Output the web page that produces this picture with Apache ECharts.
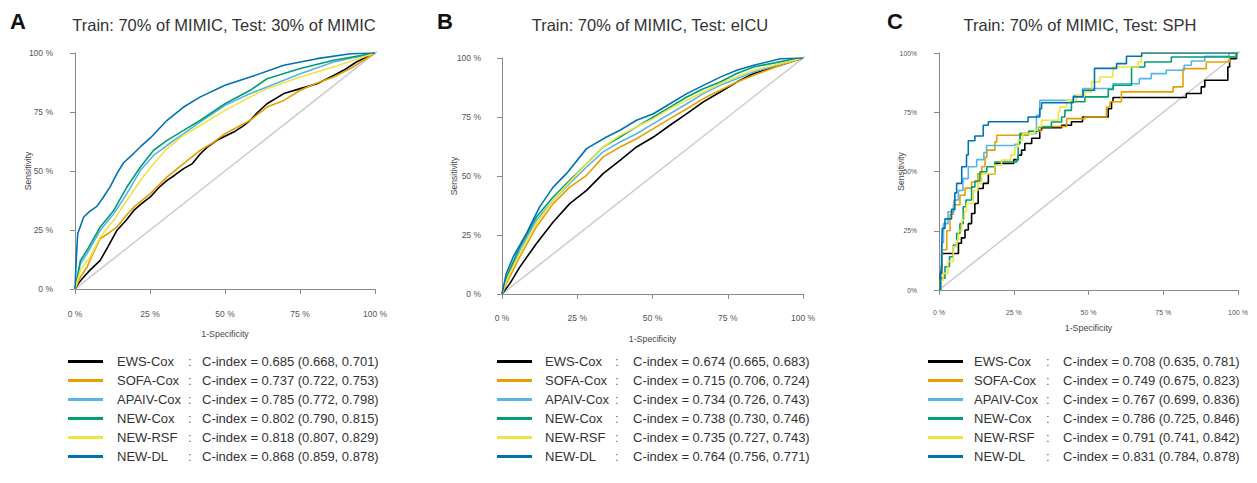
<!DOCTYPE html>
<html>
<head>
<meta charset="utf-8">
<script src="https://cdn.jsdelivr.net/npm/echarts@6/dist/echarts.min.js"></script>
<style>
html,body{margin:0;padding:0;background:#fff;}
#chart{width:1257px;height:483px;}
</style>
</head>
<body>
<div id="chart"></div>
<script>
// ---------- DATA ----------
const models = ['EWS-Cox', 'SOFA-Cox', 'APAIV-Cox', 'NEW-Cox', 'NEW-RSF', 'NEW-DL'];
const panelLetters = ['A', 'B', 'C'];
const panelTitles = ['Train: 70% of MIMIC, Test: 30% of MIMIC', 'Train: 70% of MIMIC, Test: eICU', 'Train: 70% of MIMIC, Test: SPH'];
const tickValues = [0, 25, 50, 75, 100];
const xAxisName = '1-Specificity';
const yAxisName = 'Sensitivity';

const cindexA = ['0.685 (0.668, 0.701)', '0.737 (0.722, 0.753)', '0.785 (0.772, 0.798)', '0.802 (0.790, 0.815)', '0.818 (0.807, 0.829)', '0.868 (0.859, 0.878)'];
const cindexB = ['0.674 (0.665, 0.683)', '0.715 (0.706, 0.724)', '0.734 (0.726, 0.743)', '0.738 (0.730, 0.746)', '0.735 (0.727, 0.743)', '0.764 (0.756, 0.771)'];
const cindexC = ['0.708 (0.635, 0.781)', '0.749 (0.675, 0.823)', '0.767 (0.699, 0.836)', '0.786 (0.725, 0.846)', '0.791 (0.741, 0.842)', '0.831 (0.784, 0.878)'];

// Panel A ROC points [1-specificity %, sensitivity %]
const rocA_EWS = [[0,0],[1.5,3],[2.9,5.1],[5,8],[8.4,12.1],[11,18],[14,24.9],[17,29],[19.6,33.3],[22,36],[25.1,39],[28,43],[30.7,46],[33,48],[36.2,51],[39,53],[41.8,57.3],[44,60],[47.3,63],[52.9,66.5],[56,69],[58.4,71.5],[61,75],[64,78.5],[69.6,82.8],[75.1,84.9],[80.7,87],[86.2,90.5],[90,93],[93.8,96.2],[100,100]];
const rocA_SOFA = [[0,0],[1.8,5.1],[4,9.3],[6,15],[8.4,21.3],[11,23.5],[14,26.3],[17,31],[19.6,34.7],[25.1,40.4],[30.7,47.5],[36.2,53.1],[41.8,58.8],[46,62],[50,65.8],[58.4,71.5],[64,77.1],[69.6,79.9],[75.1,84.2],[80,87],[86.2,89.8],[91.8,93.4],[100,100]];
const rocA_APAIV = [[0,0],[1.8,10.7],[4,15],[8.4,24.9],[12.9,31.9],[17.3,40.4],[21.8,50.3],[26.2,56.6],[30.7,60.9],[36.2,65.8],[41.8,70.8],[50,77.8],[58.4,82.8],[64,85.6],[75.1,91.2],[86.2,96.2],[100,100]];
const rocA_NEWCox = [[0,0],[1.8,12.1],[4,16.4],[8.4,26.3],[12.9,33.3],[17.3,43.2],[21.8,51.7],[26.2,58.8],[30.7,63],[36.2,67.2],[41.8,71.5],[50,78.5],[58.4,84.2],[64,89.1],[75.1,93.4],[86.2,96.9],[100,100]];
const rocA_RSF = [[0,0],[1.8,7.9],[5.1,13.6],[8.4,22],[12.9,29.1],[17.3,37.6],[21.8,46],[26.2,53.1],[30.7,59.5],[36.2,65.1],[41.8,69.4],[50,75.7],[58.4,81.4],[64,84.9],[75.1,89.8],[86.2,94.1],[100,100]];
const rocA_DL = [[0,0],[0.4,12.1],[0.9,23.4],[2.9,30.5],[5,33],[7.3,35],[9.5,39],[11.8,43.5],[14,49],[16.2,53.5],[19.6,57.5],[22,60.5],[25.1,64],[30.7,71.5],[36.2,77.1],[41.8,81.4],[50,86.3],[58.4,89.8],[69.6,94.8],[80.7,97.6],[91.8,99.7],[100,100]];

// Panel B
const rocB_EWS = [[0,0],[2.6,4.4],[5.9,11.4],[11.4,21.3],[17,30.5],[22.5,38.3],[28.1,43.9],[33.6,51],[39.2,56.6],[44.7,62.3],[50.3,66.5],[55.8,71.5],[61.4,76.4],[66.9,81.4],[72.5,85.6],[78,89.8],[83.6,93.4],[92.5,96.9],[100,100]];
const rocB_SOFA = [[0,0],[2,5.8],[5.9,15.7],[11.4,28.4],[17,38.3],[22.5,45.3],[28.1,50.3],[33.6,58.1],[39.2,62.3],[44.7,65.8],[50.3,70.1],[55.8,74.3],[61.4,78.5],[66.9,82.8],[72.5,86.3],[78,89.8],[83.6,92.7],[92.5,96.9],[100,100]];
const rocB_APAIV = [[0,0],[2,7.2],[5.9,18.5],[11.4,31.2],[17,39.7],[22.5,46.8],[28.1,53.8],[33.6,60.2],[39.2,64.4],[44.7,67.9],[50.3,72.2],[55.8,76.4],[61.4,80.6],[66.9,84.9],[72.5,88.4],[78,91.2],[83.6,94.1],[94.7,98.3],[100,100]];
const rocB_NEWCox = [[0,0],[2,8.6],[5.9,19.9],[11.4,32.6],[17,41.1],[22.5,48.2],[28.1,55.2],[33.6,62.3],[39.2,66.5],[44.7,70.8],[50.3,75],[55.8,79.2],[61.4,83.5],[66.9,87],[72.5,89.8],[78,93.4],[83.6,96.2],[94.7,99],[100,100]];
const rocB_RSF = [[0,0],[2,7.2],[5.9,17.1],[11.4,29.8],[17,39.7],[22.5,47.5],[28.1,55.2],[33.6,62.3],[39.2,67.2],[44.7,70.8],[50.3,74.3],[55.8,78.5],[61.4,82.1],[66.9,85.6],[72.5,89.1],[78,92.1],[83.6,94.8],[94.7,98.3],[100,100]];
const rocB_DL = [[0,0],[1.4,8.6],[3.7,15.7],[8.1,25.6],[12.5,36.9],[17,45.3],[21.4,51],[28.1,61.6],[34.7,66.5],[39.2,69.4],[44.7,73.6],[50.3,76.4],[55.8,80.6],[61.4,84.9],[66.9,88.4],[72.5,91.9],[78,94.8],[83.6,96.9],[92.5,99.7],[100,100]];

// Panel C (step curves: [x where the jump occurs, sensitivity after the jump])
const rocC_EWS = [[0,0],[0.3,7],[0.9,15.4],[6.5,19.7],[7.5,22],[8.7,25.3],[9.8,28],[10.9,32.3],[12,36.5],[13.1,42.8],[14.8,45],[16.5,49],[18.7,53.4],[25,55],[26.5,56.9],[27.6,59],[28.7,61.8],[31,64],[33.7,67.4],[34.3,68.5],[41,69.5],[44.3,71],[48,73],[56.6,76.5],[57.7,79.4],[58.2,81.2],[82.7,82.9],[87.7,85.7],[88.9,88.5],[96.6,94.1],[97.2,97.6],[99.5,100],[100,100]];
const rocC_SOFA = [[0,0],[0.5,8],[1,17],[2.6,25],[3.7,32],[4.8,36],[7,40],[8.7,43],[10.9,45.6],[13,49],[14.3,52],[15.4,56],[16,59],[18.7,62.5],[19.3,65.3],[30,67],[34,69],[42.7,72.3],[48.8,73],[56,77.2],[57.2,79.4],[61,83.6],[78.3,85.7],[81.6,93.4],[89.4,96.2],[97.2,98.3],[99.5,100],[100,100]];
const rocC_APAIV = [[0,0],[0.5,10],[1,20],[1.5,28],[3,33],[5,38],[6.5,42],[8,47],[9.8,52],[12.6,55],[15,58],[15.9,61],[25.4,61.5],[27,66],[32.6,73.7],[33.7,80],[45,82],[48,85],[58.2,87],[67,89.2],[71,91.3],[76,92.7],[82,94.8],[84.4,96.6],[88.9,98.6],[97,100],[100,100]];
const rocC_NEWCox = [[0,0],[0.5,5],[2,9.8],[3.5,14],[4.8,19],[5.9,23.9],[7,28],[8.1,35.1],[9,38],[10.9,43.5],[12,46],[13.7,49.9],[16,52],[18.7,54],[26,55],[26.5,61.8],[27.1,66],[30,67],[33.2,68.8],[37.6,70.9],[41,73],[42.1,75.8],[44.3,79.4],[48.8,81.5],[56.6,84.6],[58.3,86.4],[64.4,94.1],[68.8,96.2],[77.7,98.3],[99.5,100],[100,100]];
const rocC_RSF = [[0,0],[0.5,4],[1.4,7],[3,12],[4.8,18.3],[5.9,21],[6.5,25],[7.6,29.5],[8.5,33],[9.2,36.5],[11.5,42],[13,45],[14.3,49],[18.7,52.7],[20.9,54.8],[24,57],[25.4,60.4],[26.5,63.2],[28,66],[32,67.4],[33,69],[34.3,71.6],[39.9,75.1],[40.4,77.2],[42.6,80],[46,82],[48.8,83.6],[51,87.8],[53.8,89.9],[58.2,94.1],[66.6,96.2],[67.7,100],[100,100]];
const rocC_DL = [[0,0],[0.5,8],[0.9,18],[1.1,26],[2,30],[4.2,34],[5.3,41],[5.9,45],[7.6,52],[9.2,57],[9.8,63],[12,65],[14.8,69.5],[16.5,71],[29.8,73],[33.7,76.5],[34.3,79],[44.9,81.5],[48.2,84.3],[52,93.5],[59.4,95.5],[62.7,98.6],[67.8,100],[100,100]];

const chanceLine = [[-4,-4],[104,104]];

// ---------- STYLE / LAYOUT ----------
const colors = ['#000000', '#E69F00', '#56B4E9', '#009E73', '#F0E442', '#0072B2'];
const FONT = '"Liberation Sans", Arial, Helvetica, sans-serif';

const panels = [
  { curves: [rocA_EWS, rocA_SOFA, rocA_APAIV, rocA_NEWCox, rocA_RSF, rocA_DL], cidx: cindexA,
    grid: {left: 75, top: 53, width: 300, height: 236}, yOff: 13, xOff: 11, yGap: 30, xGap: 29,
    tickFont: 8.5, yFmt: v => v + ' %', step: false,
    titleX: 224, letterX: 18, legendLeft: 68, sp: 9, nameW: 71, colW: 14 },
  { curves: [rocB_EWS, rocB_SOFA, rocB_APAIV, rocB_NEWCox, rocB_RSF, rocB_DL], cidx: cindexB,
    grid: {left: 502, top: 58, width: 301, height: 236}, yOff: 12, xOff: 10, yGap: 32, xGap: 30,
    tickFont: 8.5, yFmt: v => v + ' %', step: false,
    titleX: 650, letterX: 445, legendLeft: 497, sp: 8, nameW: 70, colW: 18 },
  { curves: [rocC_EWS, rocC_SOFA, rocC_APAIV, rocC_NEWCox, rocC_RSF, rocC_DL], cidx: cindexC,
    grid: {left: 939, top: 53, width: 299, height: 237}, yOff: 13, xOff: 10, yGap: 21, xGap: 23,
    tickFont: 6.8, yFmt: v => v + '%', step: 'end',
    titleX: 1080, letterX: 895, legendLeft: 928, sp: 6, nameW: 72, colW: 17 }
];

const axisColor = '#8a8a8a';
const grids = [], xAxes = [], yAxes = [], series = [], legends = [], graphics = [];

panels.forEach((p, i) => {
  grids.push(Object.assign({ outerBoundsMode: 'none', containLabel: false }, p.grid));
  xAxes.push({
    gridIndex: i, type: 'value', min: tickValues[0], max: tickValues[tickValues.length - 1],
    interval: tickValues[1] - tickValues[0], offset: p.xOff,
    name: xAxisName, nameLocation: 'middle', nameGap: p.xGap, nameMoveOverlap: false,
    nameTextStyle: { fontSize: 8.8, color: '#444', fontFamily: FONT },
    axisLine: { show: true, lineStyle: { color: axisColor, width: 1 } },
    axisTick: { show: true, length: 5, lineStyle: { color: axisColor } },
    axisLabel: { fontSize: i === 2 ? 7 : p.tickFont, color: '#555', margin: 9, fontFamily: FONT, formatter: v => v + ' %' },
    splitLine: { show: false }
  });
  yAxes.push({
    gridIndex: i, type: 'value', min: tickValues[0], max: tickValues[tickValues.length - 1],
    interval: tickValues[1] - tickValues[0], offset: p.yOff,
    name: yAxisName, nameLocation: 'middle', nameGap: p.yGap, nameMoveOverlap: false,
    nameTextStyle: { fontSize: 8.5, color: '#444', fontFamily: FONT },
    axisLine: { show: true, lineStyle: { color: axisColor, width: 1 } },
    axisTick: { show: true, length: 5, lineStyle: { color: axisColor } },
    axisLabel: { fontSize: p.tickFont, color: '#555', margin: 9, fontFamily: FONT, formatter: p.yFmt },
    splitLine: { show: false }
  });
  series.push({
    type: 'line', xAxisIndex: i, yAxisIndex: i, data: chanceLine, clip: false, silent: true,
    symbol: 'none', lineStyle: { color: '#cccccc', width: 1.5 }, z: 1
  });
  const names = [];
  models.forEach((m, k) => {
    const nm = panelLetters[i] + '|' + m;
    names.push(nm);
    series.push({
      name: nm, type: 'line', xAxisIndex: i, yAxisIndex: i, data: p.curves[k],
      symbol: 'none', showSymbol: false, step: p.step, smooth: false,
      color: colors[k], itemStyle: { color: colors[k] },
      lineStyle: { color: colors[k], width: 1.6 }, z: 2 + k
    });
  });
  const cid = p.cidx;
  legends.push({
    data: names.map(n => ({ name: n, icon: 'rect' })), orient: 'vertical', left: p.legendLeft, top: 355,
    itemWidth: 35, itemHeight: 3, itemGap: 6, selectedMode: false, padding: 0,
    formatter: n => {
      const m = n.split('|')[1];
      const k = models.indexOf(m);
      return '{s|}{n|' + m + '}{c|:}{v|C-index = ' + cid[k] + '}';
    },
    textStyle: {
      fontFamily: FONT, fontSize: 13, color: '#333',
      rich: {
        s: { width: p.sp, fontSize: 13, lineHeight: 16 },
        n: { width: p.nameW, fontSize: 13, color: '#333', fontFamily: FONT, lineHeight: 16 },
        c: { width: p.colW, fontSize: 13, color: '#666', fontFamily: FONT, lineHeight: 16 },
        v: { fontSize: 13, color: '#333', fontFamily: FONT, lineHeight: 16 }
      }
    }
  });
  graphics.push({
    type: 'text', x: p.letterX, y: 21,
    style: { text: panelLetters[i], font: 'bold 22px ' + FONT, fill: '#111', align: 'center', verticalAlign: 'middle', textAlign: 'center', textVerticalAlign: 'middle' }
  });
  graphics.push({
    type: 'text', x: p.titleX, y: 25,
    style: { text: panelTitles[i], font: '16.5px ' + FONT, fill: '#333', align: 'center', verticalAlign: 'middle', textAlign: 'center', textVerticalAlign: 'middle' }
  });
});

const chart = echarts.init(document.getElementById('chart'), null, { renderer: 'svg' });
chart.setOption({
  backgroundColor: '#ffffff',
  animation: false,
  grid: grids, xAxis: xAxes, yAxis: yAxes,
  legend: legends,
  graphic: graphics,
  series: series
});
</script>
</body>
</html>
